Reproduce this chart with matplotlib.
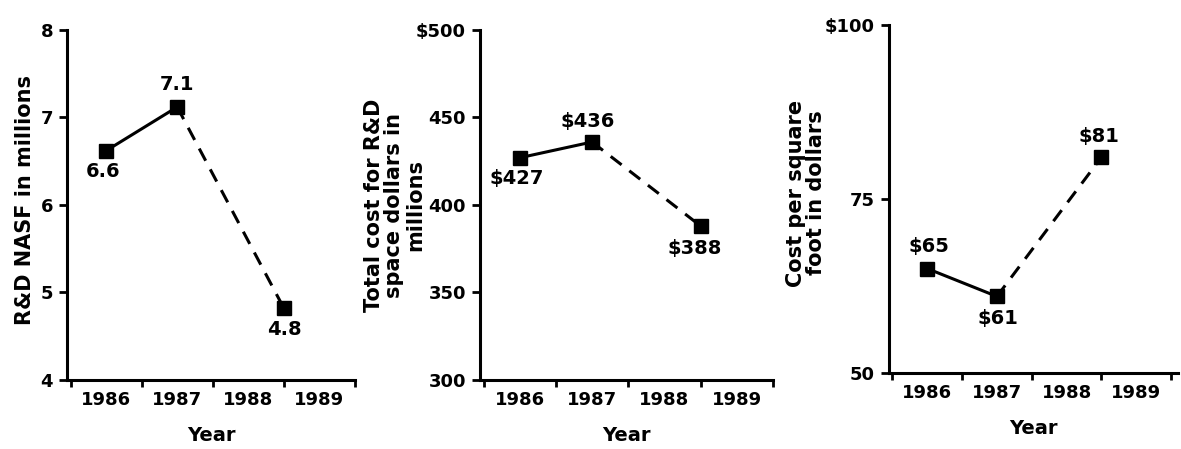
import matplotlib
matplotlib.use('Agg')
import matplotlib.pyplot as plt

plt.rcParams['font.family'] = ['DejaVu Sans']
plt.rcParams['font.weight'] = 'bold'

years = ['1986', '1987', '1988', '1989']

# values shown on each panel (1986, 1987, 1989)
nasf = [6.62, 7.12, 4.82]
nasf_labels = ['6.6', '7.1', '4.8']

total_cost = [427, 436, 388]
total_labels = ['$427', '$436', '$388']

sqft_cost = [65, 61, 81]
sqft_labels = ['$65', '$61', '$81']

FS = 13
LFS = 15


def draw_panel(ax, values, labels, yticks, yticklabels, ylim, offsets, xmax=4.0):
    # points sit mid-interval for 1986/1987, on the 1988/1989 boundary for the last
    x = [0.5, 1.5, 3.0]
    ax.plot(x[:2], values[:2], color='black', lw=2.2, solid_capstyle='butt')
    ax.plot(x[1:], values[1:], color='black', lw=2.2, ls=(0, (4.5, 3.2)))
    ax.plot(x, values, 's', color='black', ms=10)
    for xi, yi, lab, off in zip(x, values, labels, offsets):
        ax.annotate(lab, (xi, yi), xytext=off, textcoords='offset points',
                    ha='center', va='center', fontsize=14, fontweight='bold')

    ax.set_xlim(-0.05, xmax)
    ax.set_ylim(*ylim)
    ax.set_xticks(range(5))
    ax.set_xticklabels([])
    ax.set_xticks([0.5, 1.5, 2.5, 3.5], minor=True)
    ax.set_xticklabels(years, minor=True, fontsize=FS, fontweight='bold')
    ax.tick_params(axis='x', which='major', direction='out', length=5, width=2)
    ax.tick_params(axis='x', which='minor', length=0, pad=8)
    ax.set_yticks(yticks)
    ax.set_yticklabels(yticklabels, fontsize=FS, fontweight='bold')
    ax.tick_params(axis='y', direction='out', length=6, width=2, pad=4)
    for s in ['top', 'right']:
        ax.spines[s].set_visible(False)
    for s in ['left', 'bottom']:
        ax.spines[s].set_linewidth(2.2)
    ax.set_xlabel('Year', fontsize=14, fontweight='bold', labelpad=12)


fig = plt.figure(figsize=(11.81, 4.49), dpi=100)

ax1 = fig.add_axes([0.0567, 0.1537, 0.2439, 0.7795])
draw_panel(ax1, nasf, nasf_labels, [4, 5, 6, 7, 8], ['4', '5', '6', '7', '8'],
           (4, 8), [(-2, -15), (0, 16), (0, -15)])

ax2 = fig.add_axes([0.4064, 0.1537, 0.2481, 0.7795])
draw_panel(ax2, total_cost, total_labels, [300, 350, 400, 450, 500],
           ['300', '350', '400', '450', '$500'],
           (300, 500), [(-2, -15), (-3, 15), (-4, -16)])

ax3 = fig.add_axes([0.7527, 0.1693, 0.2448, 0.775])
draw_panel(ax3, sqft_cost, sqft_labels, [50, 75, 100], ['50', '75', '$100'],
           (50, 100), [(1, 16), (1, -16), (-2, 15)], xmax=4.1)

fig.text(0.021, 0.555, 'R&D NASF in millions', rotation=90, ha='center',
         va='center', fontsize=LFS, fontweight='bold')
fig.text(0.334, 0.543, 'Total cost for R&D\nspace dollars in\nmillions', rotation=90,
         ha='center', va='center', multialignment='center', linespacing=1.05,
         fontsize=LFS, fontweight='bold')
fig.text(0.6825, 0.57, 'Cost per square\nfoot in dollars', rotation=90,
         ha='center', va='center', multialignment='center', linespacing=1.05,
         fontsize=LFS, fontweight='bold')

fig.savefig('out.png', dpi=100)
